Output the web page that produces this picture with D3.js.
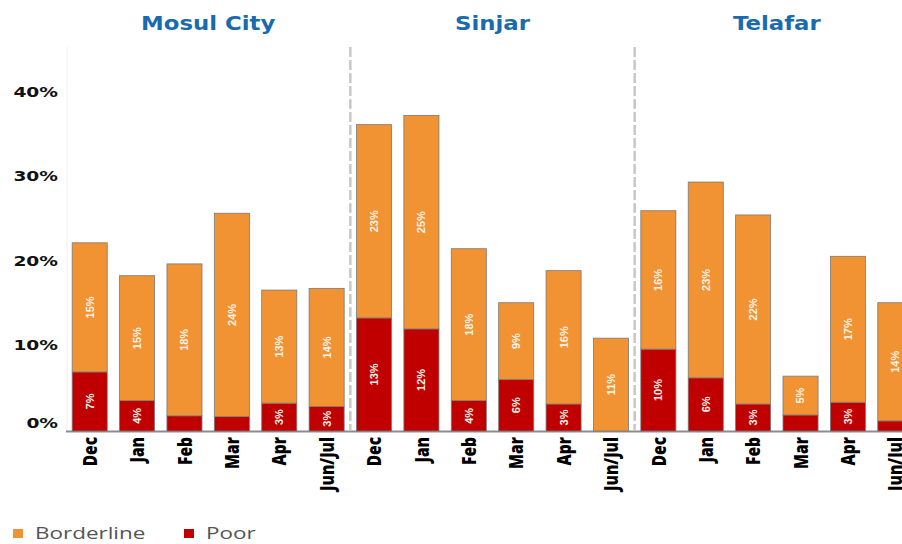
<!DOCTYPE html>
<html>
<head>
<meta charset="utf-8">
<script src="https://cdn.jsdelivr.net/npm/d3@7"></script>
<style>
  html, body { margin: 0; padding: 0; background: #ffffff; }
  svg { display: block; }
</style>
</head>
<body>
<svg id="chart" width="902" height="544"></svg>
<script>
// ---- Data (percent of households) ----
const locations = ["Mosul City", "Sinjar", "Telafar"];
const months = ["Dec", "Jan", "Feb", "Mar", "Apr", "Jun/Jul"];
const mosulPoor        = [7.0, 3.6, 1.8, 1.7, 3.3, 2.9];
const mosulBorderline  = [15.3, 14.8, 18.0, 24.1, 13.4, 14.0];
const sinjarPoor       = [13.4, 12.1, 3.6, 6.1, 3.2, 0];
const sinjarBorderline = [22.9, 25.3, 18.0, 9.1, 15.8, 11.0];
const telafarPoor      = [9.7, 6.3, 3.2, 1.9, 3.4, 1.2];
const telafarBorderline= [16.4, 23.2, 22.4, 4.6, 17.3, 14.0];
const yTicks = [0, 10, 20, 30, 40];
const seriesNames = ["Borderline", "Poor"];

const poorByLoc = [mosulPoor, sinjarPoor, telafarPoor];
const borderByLoc = [mosulBorderline, sinjarBorderline, telafarBorderline];

const rows = [];
locations.forEach((loc, li) => {
  months.forEach((m, mi) => {
    rows.push({ key: loc + "|" + m, loc, month: m,
                Poor: poorByLoc[li][mi], Borderline: borderByLoc[li][mi] });
  });
});

// ---- Styles ----
const COLORS = { Borderline: "#F19233", Poor: "#C00000" };
const svg = d3.select("#chart");

function stretch(sel, k) {
  sel.each(function () {
    const L = this.getComputedTextLength();
    d3.select(this).attr("textLength", L * k).attr("lengthAdjust", "spacingAndGlyphs");
  });
}

// ---- Scales ----
const x = d3.scaleBand()
  .domain(rows.map(d => d.key))
  .range([66, 919])
  .paddingInner(0.26)
  .paddingOuter(0.13);

const y = d3.scaleLinear().domain([0, 45.5]).range([431, 47]);

const stack = d3.stack().keys(["Poor", "Borderline"]);
const stacked = stack(rows);

// ---- Plot frame ----
svg.append("line")
  .attr("x1", 67).attr("x2", 67)
  .attr("y1", y.range()[1]).attr("y2", y(0))
  .attr("stroke", "#eeeeee").attr("stroke-width", 1);

// axis baseline
svg.append("line")
  .attr("x1", 66).attr("x2", 902)
  .attr("y1", y(0) + 0.5).attr("y2", y(0) + 0.5)
  .attr("stroke", "#8c8c8c").attr("stroke-width", 2);

// group separators
const step = x.step();
locations.slice(1).forEach(loc => {
  const sx = x(loc + "|" + months[0]) - step * x.paddingInner() / 2;
  svg.append("line")
    .attr("x1", sx).attr("x2", sx)
    .attr("y1", y.range()[1]).attr("y2", y(0))
    .attr("stroke", "#c8c8c8").attr("stroke-width", 2.5)
    .attr("stroke-dasharray", "10,3");
});

// ---- Bars ----
const layers = svg.append("g").selectAll("g")
  .data(stacked)
  .join("g")
  .attr("fill", d => COLORS[d.key]);

layers.selectAll("rect")
  .data(d => d.map(v => ({ v, key: d.key })))
  .join("rect")
  .attr("x", d => x(d.v.data.key))
  .attr("width", x.bandwidth())
  .attr("y", d => y(d.v[1]))
  .attr("height", d => Math.max(0, y(d.v[0]) - y(d.v[1])))
  .attr("stroke", d => (d.v[1] - d.v[0]) > 0 ? "#7a7a7a" : "none")
  .attr("stroke-width", 0.8);

// ---- Value labels ----
const labelData = [];
stacked.forEach(layer => {
  layer.forEach(v => {
    const val = v[1] - v[0];
    if (Math.round(val) >= 3) {
      labelData.push({ key: v.data.key, mid: (v[0] + v[1]) / 2, text: Math.round(val) + "%" });
    }
  });
});
svg.append("g").selectAll("text")
  .data(labelData)
  .join("text")
  .attr("transform", d => `translate(${x(d.key) + x.bandwidth() / 2},${y(d.mid)}) rotate(-90)`)
  .attr("text-anchor", "middle")
  .attr("dy", "0.36em")
  .attr("fill", "#fdf4ea")
  .style("font-family", "'Liberation Sans', Arial, sans-serif")
  .style("font-weight", "bold")
  .style("font-size", "11px")
  .text(d => d.text);

// ---- Y axis ----
const yAxis = svg.append("g")
  .attr("transform", "translate(58,0)")
  .call(d3.axisLeft(y).tickValues(yTicks).tickFormat(d => d + "%").tickSize(0).tickPadding(0));
yAxis.select(".domain").remove();
yAxis.selectAll("text")
  .attr("fill", "#111")
  .attr("dy", d => d === 0 ? "-0.25em" : "0.22em")
  .style("font-family", "'DejaVu Sans', Verdana, sans-serif")
  .style("font-weight", "bold")
  .style("font-size", "13.5px")
  .call(stretch, 1.38);

// ---- X axis ----
const xAxis = svg.append("g")
  .attr("transform", `translate(0,${y(0)})`)
  .call(d3.axisBottom(x).tickFormat(d => d.split("|")[1]).tickSize(0));
xAxis.select(".domain").remove();
xAxis.selectAll("text")
  .attr("x", 0).attr("y", 0)
  .attr("dy", "0.36em")
  .attr("text-anchor", "end")
  .attr("transform", "translate(0,6) scale(1.28,1) rotate(-90)")
  .attr("fill", "#000")
  .style("font-family", "'Open Sans', sans-serif")
  .style("font-weight", "800")
  .style("font-size", "15.5px")
  .text(d => d.split("|")[1]);

// ---- Titles ----
const titles = svg.append("g").selectAll("text")
  .data(locations)
  .join("text")
  .attr("x", loc => (x(loc + "|" + months[0]) + x(loc + "|" + months[months.length - 1]) + x.bandwidth()) / 2)
  .attr("y", 30)
  .attr("text-anchor", "middle")
  .attr("fill", "#1a6aae")
  .style("font-family", "'DejaVu Sans', Verdana, sans-serif")
  .style("font-weight", "bold")
  .style("font-size", "19.5px")
  .text(d => d)
  .call(stretch, 1.17);

// ---- Legend ----
const legendX = [13, 184];
const legend = svg.append("g").selectAll("g")
  .data(seriesNames)
  .join("g")
  .attr("transform", (d, i) => `translate(${legendX[i]},529)`);
legend.append("rect")
  .attr("width", 10).attr("height", 9)
  .attr("fill", d => COLORS[d]);
legend.append("text")
  .attr("x", 22).attr("y", 10)
  .attr("fill", "#555555")
  .style("font-family", "'Open Sans', sans-serif")
  .style("font-size", "16.5px")
  .text(d => d)
  .call(stretch, 1.36);
</script>
</body>
</html>
